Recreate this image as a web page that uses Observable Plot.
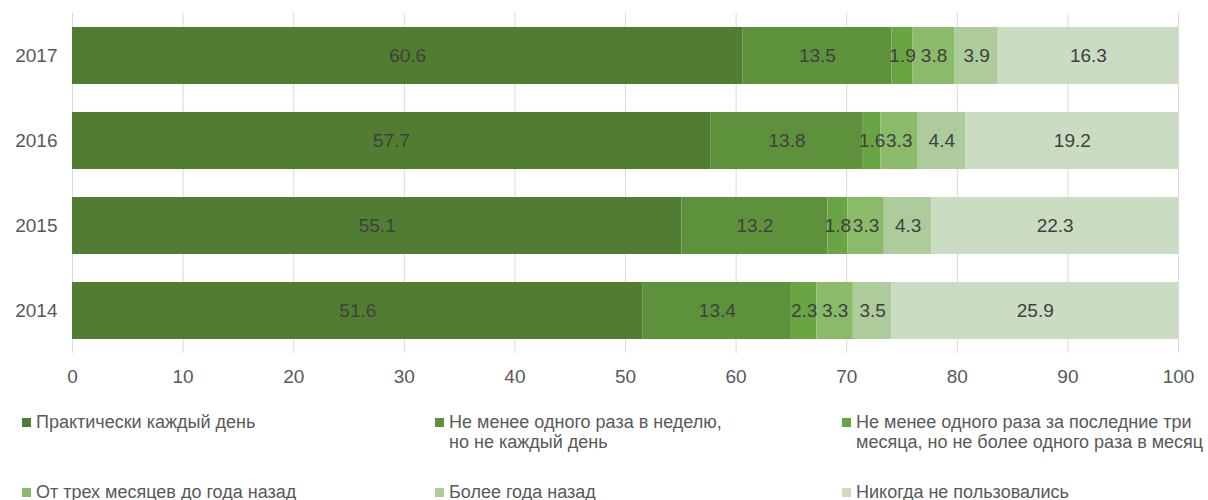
<!DOCTYPE html>
<html>
<head>
<meta charset="utf-8">
<script src="https://cdn.jsdelivr.net/npm/d3@7"></script>
<script src="https://cdn.jsdelivr.net/npm/@observablehq/plot@0.6"></script>
<style>
  body { margin: 0; background: #fff; font-family: "Liberation Sans", Arial, sans-serif; }
  #wrap { position: relative; width: 1208px; height: 500px; }
  .leg { position: absolute; font-size: 18px; color: #595959; line-height: 20px; white-space: nowrap; }
  .sw { position: absolute; width: 9px; height: 9px; left: -14px; top: 6px; }
</style>
</head>
<body>
<div id="wrap"></div>
<script>
const years = ["2017", "2016", "2015", "2014"];
const categories = [
  "Практически каждый день",
  "Не менее одного раза в неделю, но не каждый день",
  "Не менее одного раза за последние три месяца, но не более одного раза в месяц",
  "От трех месяцев до года назад",
  "Более года назад",
  "Никогда не пользовались"
];
const colors = ["#507d32", "#5e913b", "#6aa543", "#8bba6b", "#aecb9c", "#cadcc2"];
const v2017 = [60.6, 13.5, 1.9, 3.8, 3.9, 16.3];
const v2016 = [57.7, 13.8, 1.6, 3.3, 4.4, 19.2];
const v2015 = [55.1, 13.2, 1.8, 3.3, 4.3, 22.3];
const v2014 = [51.6, 13.4, 2.3, 3.3, 3.5, 25.9];
const xTicks = [0, 10, 20, 30, 40, 50, 60, 70, 80, 90, 100];

const series = {"2017": v2017, "2016": v2016, "2015": v2015, "2014": v2014};
const data = [];
for (const y of years) series[y].forEach((v, i) => data.push({year: y, cat: categories[i], value: v}));

const chart = Plot.plot({
  width: 1208,
  height: 395,
  marginLeft: 72,
  marginRight: 30,
  marginTop: 13,
  marginBottom: 42,
  style: {fontFamily: "'Liberation Sans', Arial, sans-serif", fontSize: "19px", color: "#595959", background: "#fff"},
  x: {domain: [0, 100], ticks: xTicks, tickSize: 0, tickPadding: 16, label: null},
  y: {domain: years, paddingInner: 0.33, paddingOuter: 0.165, tickSize: 0, tickPadding: 15, label: null},
  color: {domain: categories, range: colors},
  marks: [
    Plot.gridX(xTicks, {stroke: "#d9d9d9", strokeOpacity: 1}),
    Plot.barX(data, Plot.stackX({x: "value", y: "year", z: "cat", fill: "cat", order: categories})),
    Plot.text(data, Plot.stackX({x: "value", y: "year", z: "cat", order: categories, text: d => d.value.toFixed(1), fill: "#404040", fontSize: 19}))
  ]
});
const wrap = document.getElementById("wrap");
wrap.appendChild(chart);

const legPos = [
  {x: 36, y: 412}, {x: 449, y: 412}, {x: 856, y: 412},
  {x: 36, y: 482}, {x: 449, y: 482}, {x: 856, y: 482}
];
const legLines = [
  ["Практически каждый день"],
  ["Не менее одного раза в неделю,", "но не каждый день"],
  ["Не менее одного раза за последние три", "месяца, но не более одного раза в месяц"],
  ["От трех месяцев до года назад"],
  ["Более года назад"],
  ["Никогда не пользовались"]
];
categories.forEach((c, i) => {
  const d = document.createElement("div");
  d.className = "leg";
  d.style.left = legPos[i].x + "px";
  d.style.top = legPos[i].y + "px";
  d.innerHTML = `<span class="sw" style="background:${colors[i]}"></span>` + legLines[i].join("<br>");
  wrap.appendChild(d);
});
</script>
</body>
</html>
